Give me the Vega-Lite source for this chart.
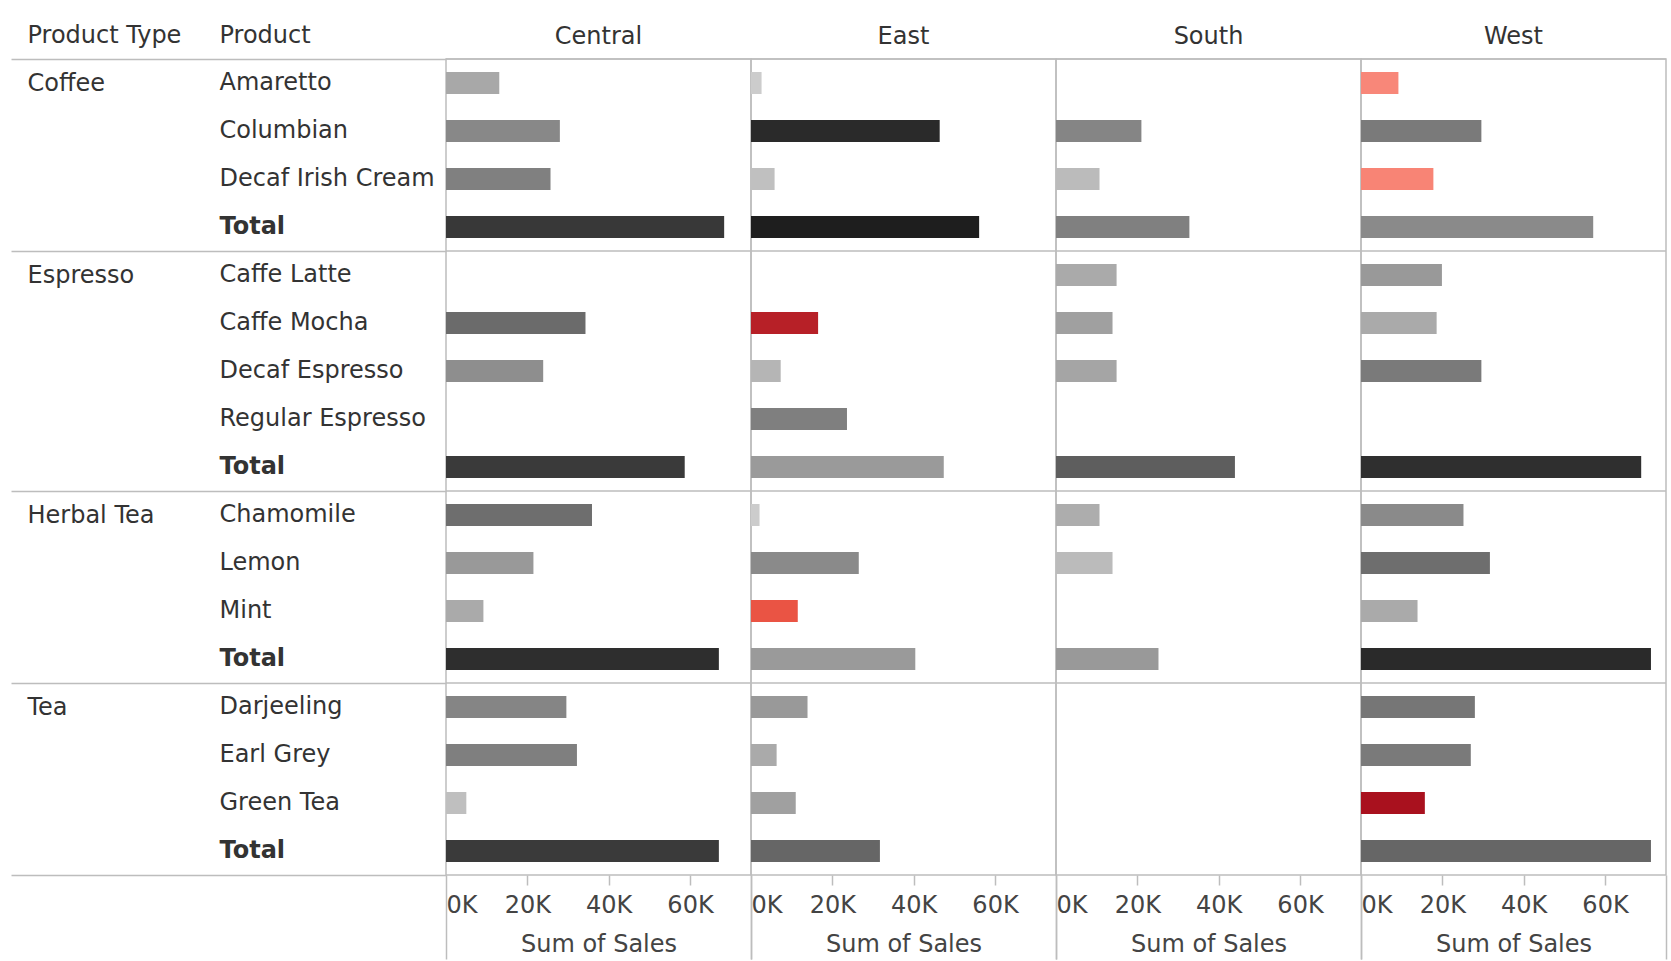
{
  "$schema": "https://vega.github.io/schema/vega-lite/v6.json",
  "padding": {"left": 10, "top": 23, "right": 0, "bottom": 0},
  "background": "white",
  "config": {
    "font": "DejaVu Sans",
    "view": {"stroke": "#bdbdbd", "strokeWidth": 1.5}
  },
  "data": {
    "values": [
      {"region": "Central", "type": "Coffee", "product": "Amaretto", "sales": 13100, "profit": 2200},
      {"region": "Central", "type": "Coffee", "product": "Columbian", "sales": 28000, "profit": 3960},
      {"region": "Central", "type": "Coffee", "product": "Decaf Irish Cream", "sales": 25700, "profit": 4400},
      {"region": "Central", "type": "Coffee", "product": "Total", "sales": 68400, "profit": 8350},
      {"region": "Central", "type": "Espresso", "product": "Caffe Latte", "sales": null, "profit": null},
      {"region": "Central", "type": "Espresso", "product": "Caffe Mocha", "sales": 34300, "profit": 5550},
      {"region": "Central", "type": "Espresso", "product": "Decaf Espresso", "sales": 23900, "profit": 3630},
      {"region": "Central", "type": "Espresso", "product": "Regular Espresso", "sales": null, "profit": null},
      {"region": "Central", "type": "Espresso", "product": "Total", "sales": 58700, "profit": 8240},
      {"region": "Central", "type": "Herbal Tea", "product": "Chamomile", "sales": 35900, "profit": 5380},
      {"region": "Central", "type": "Herbal Tea", "product": "Lemon", "sales": 21500, "profit": 3020},
      {"region": "Central", "type": "Herbal Tea", "product": "Mint", "sales": 9200, "profit": 2090},
      {"region": "Central", "type": "Herbal Tea", "product": "Total", "sales": 67100, "profit": 8900},
      {"region": "Central", "type": "Tea", "product": "Darjeeling", "sales": 29600, "profit": 4120},
      {"region": "Central", "type": "Tea", "product": "Earl Grey", "sales": 32200, "profit": 4450},
      {"region": "Central", "type": "Tea", "product": "Green Tea", "sales": 5000, "profit": 930},
      {"region": "Central", "type": "Tea", "product": "Total", "sales": 67100, "profit": 8240},

      {"region": "East", "type": "Coffee", "product": "Amaretto", "sales": 2600, "profit": 220},
      {"region": "East", "type": "Coffee", "product": "Columbian", "sales": 46400, "profit": 9120},
      {"region": "East", "type": "Coffee", "product": "Decaf Irish Cream", "sales": 5800, "profit": 880},
      {"region": "East", "type": "Coffee", "product": "Total", "sales": 56100, "profit": 9780},
      {"region": "East", "type": "Espresso", "product": "Caffe Latte", "sales": null, "profit": null},
      {"region": "East", "type": "Espresso", "product": "Caffe Mocha", "sales": 16500, "profit": -2500},
      {"region": "East", "type": "Espresso", "product": "Decaf Espresso", "sales": 7300, "profit": 1480},
      {"region": "East", "type": "Espresso", "product": "Regular Espresso", "sales": 23600, "profit": 4450},
      {"region": "East", "type": "Espresso", "product": "Total", "sales": 47400, "profit": 2970},
      {"region": "East", "type": "Herbal Tea", "product": "Chamomile", "sales": 2100, "profit": 220},
      {"region": "East", "type": "Herbal Tea", "product": "Lemon", "sales": 26500, "profit": 3850},
      {"region": "East", "type": "Herbal Tea", "product": "Mint", "sales": 11500, "profit": -1100},
      {"region": "East", "type": "Herbal Tea", "product": "Total", "sales": 40400, "profit": 2970},
      {"region": "East", "type": "Tea", "product": "Darjeeling", "sales": 13900, "profit": 3020},
      {"region": "East", "type": "Tea", "product": "Earl Grey", "sales": 6300, "profit": 2090},
      {"region": "East", "type": "Tea", "product": "Green Tea", "sales": 11000, "profit": 2640},
      {"region": "East", "type": "Tea", "product": "Total", "sales": 31700, "profit": 5820},

      {"region": "South", "type": "Coffee", "product": "Amaretto", "sales": null, "profit": null},
      {"region": "South", "type": "Coffee", "product": "Columbian", "sales": 21000, "profit": 4120},
      {"region": "South", "type": "Coffee", "product": "Decaf Irish Cream", "sales": 10700, "profit": 1150},
      {"region": "South", "type": "Coffee", "product": "Total", "sales": 32800, "profit": 4400},
      {"region": "South", "type": "Espresso", "product": "Caffe Latte", "sales": 14900, "profit": 2090},
      {"region": "South", "type": "Espresso", "product": "Caffe Mocha", "sales": 13900, "profit": 2640},
      {"region": "South", "type": "Espresso", "product": "Decaf Espresso", "sales": 14900, "profit": 2360},
      {"region": "South", "type": "Espresso", "product": "Regular Espresso", "sales": null, "profit": null},
      {"region": "South", "type": "Espresso", "product": "Total", "sales": 44000, "profit": 6260},
      {"region": "South", "type": "Herbal Tea", "product": "Chamomile", "sales": 10700, "profit": 1900},
      {"region": "South", "type": "Herbal Tea", "product": "Lemon", "sales": 13900, "profit": 1150},
      {"region": "South", "type": "Herbal Tea", "product": "Mint", "sales": null, "profit": null},
      {"region": "South", "type": "Herbal Tea", "product": "Total", "sales": 25200, "profit": 3020},
      {"region": "South", "type": "Tea", "product": "Darjeeling", "sales": null, "profit": null},
      {"region": "South", "type": "Tea", "product": "Earl Grey", "sales": null, "profit": null},
      {"region": "South", "type": "Tea", "product": "Green Tea", "sales": null, "profit": null},
      {"region": "South", "type": "Tea", "product": "Total", "sales": null, "profit": null},

      {"region": "West", "type": "Coffee", "product": "Amaretto", "sales": 9200, "profit": -250},
      {"region": "West", "type": "Coffee", "product": "Columbian", "sales": 29600, "profit": 4730},
      {"region": "West", "type": "Coffee", "product": "Decaf Irish Cream", "sales": 17800, "profit": -300},
      {"region": "West", "type": "Coffee", "product": "Total", "sales": 57100, "profit": 3850},
      {"region": "West", "type": "Espresso", "product": "Caffe Latte", "sales": 19900, "profit": 3020},
      {"region": "West", "type": "Espresso", "product": "Caffe Mocha", "sales": 18600, "profit": 2090},
      {"region": "West", "type": "Espresso", "product": "Decaf Espresso", "sales": 29600, "profit": 4730},
      {"region": "West", "type": "Espresso", "product": "Regular Espresso", "sales": null, "profit": null},
      {"region": "West", "type": "Espresso", "product": "Total", "sales": 68900, "profit": 8840},
      {"region": "West", "type": "Herbal Tea", "product": "Chamomile", "sales": 25200, "profit": 3850},
      {"region": "West", "type": "Herbal Tea", "product": "Lemon", "sales": 31700, "profit": 5380},
      {"region": "West", "type": "Herbal Tea", "product": "Mint", "sales": 13900, "profit": 2090},
      {"region": "West", "type": "Herbal Tea", "product": "Total", "sales": 71300, "profit": 9120},
      {"region": "West", "type": "Tea", "product": "Darjeeling", "sales": 28000, "profit": 4950},
      {"region": "West", "type": "Tea", "product": "Earl Grey", "sales": 27000, "profit": 4700},
      {"region": "West", "type": "Tea", "product": "Green Tea", "sales": 15700, "profit": -2900},
      {"region": "West", "type": "Tea", "product": "Total", "sales": 71300, "profit": 5820}
    ]
  },
  "transform": [{"calculate": "datum.type + '|' + datum.product", "as": "key"}],
  "facet": {
    "column": {
      "field": "region",
      "type": "nominal",
      "sort": ["Central", "East", "South", "West"],
      "header": {"title": null, "labelFontSize": 24, "labelColor": "#333", "labelPadding": 10}
    }
  },
  "spacing": 0,
  "bounds": "flush",
  "spec": {
    "width": 305,
    "height": {"step": 48},
    "layer": [
      {
        "transform": [{"filter": "isValid(datum.sales)"}],
        "mark": {"type": "bar", "size": 22},
        "encoding": {
          "y": {
            "field": "key",
            "type": "nominal",
            "sort": ["Coffee|Amaretto", "Coffee|Columbian", "Coffee|Decaf Irish Cream", "Coffee|Total", "Espresso|Caffe Latte", "Espresso|Caffe Mocha", "Espresso|Decaf Espresso", "Espresso|Regular Espresso", "Espresso|Total", "Herbal Tea|Chamomile", "Herbal Tea|Lemon", "Herbal Tea|Mint", "Herbal Tea|Total", "Tea|Darjeeling", "Tea|Earl Grey", "Tea|Green Tea", "Tea|Total"],
            "scale": {"paddingInner": 0, "paddingOuter": 0},
            "axis": {
              "orient": "left",
              "title": "Product",
              "titleAngle": 0,
              "titleAlign": "left",
              "titleBaseline": "middle",
              "titleX": -227,
              "titleY": -24,
              "titleFontSize": 24,
              "titleFontWeight": "normal",
              "titleColor": "#333",
              "labelExpr": "split(datum.value, '|')[1]",
              "labelAlign": "left",
              "labelBaseline": "middle",
              "labelPadding": 227,
              "labelLimit": 400,
              "labelFontSize": 24,
              "labelColor": "#333",
              "labelFontWeight": {"condition": {"test": "datum.value == 'Coffee|Total' || datum.value == 'Espresso|Total' || datum.value == 'Herbal Tea|Total' || datum.value == 'Tea|Total'", "value": "bold"}, "value": "normal"},
              "ticks": false,
              "domain": false,
              "grid": false
            }
          },
          "x": {
            "field": "sales",
            "type": "quantitative",
            "scale": {"domain": [0, 75000], "nice": false},
            "axis": {
              "title": "Sum of Sales",
              "titleY": 69,
              "titleBaseline": "middle",
              "values": [0, 20000, 40000, 60000, 75000],
              "labelExpr": "datum.value == 75000 ? '' : datum.value / 1000 + 'K'",
              "labelFlush": true,
              "labelFontSize": 24,
              "labelColor": "#444",
              "labelPadding": {"condition": {"test": "datum.value == 0 || datum.value == 75000", "value": -66}, "value": 8},
              "tickSize": {"condition": {"test": "datum.value == 0 || datum.value == 75000", "value": 84}, "value": 10},
              "tickColor": "#bdbdbd",
              "tickWidth": 1.5,
              "domain": false,
              "grid": false,
              "titleFontSize": 24,
              "titleFontWeight": "normal",
              "titleColor": "#444"
            }
          },
          "color": {
            "field": "profit",
            "type": "quantitative",
            "scale": {
              "domain": [-3000, -1000, -200, 0, 10000],
              "range": ["#a50d1c", "#ee5846", "#f98a7c", "#d0d0d0", "#1a1a1a"],
              "interpolate": "rgb"
            },
            "legend": null
          }
        }
      },
      {
        "transform": [{"filter": {"field": "key", "oneOf": ["Coffee|Amaretto", "Espresso|Caffe Latte", "Herbal Tea|Chamomile", "Tea|Darjeeling"]}}],
        "mark": {"type": "rule", "color": "#bdbdbd", "strokeWidth": 1.5},
        "encoding": {
          "y": {
            "field": "key",
            "type": "nominal",
            "bandPosition": 0,
            "sort": ["Coffee|Amaretto", "Coffee|Columbian", "Coffee|Decaf Irish Cream", "Coffee|Total", "Espresso|Caffe Latte", "Espresso|Caffe Mocha", "Espresso|Decaf Espresso", "Espresso|Regular Espresso", "Espresso|Total", "Herbal Tea|Chamomile", "Herbal Tea|Lemon", "Herbal Tea|Mint", "Herbal Tea|Total", "Tea|Darjeeling", "Tea|Earl Grey", "Tea|Green Tea", "Tea|Total"],
            "axis": {
              "orient": "left",
              "title": "Product Type",
              "titleAngle": 0,
              "titleAlign": "left",
              "titleBaseline": "middle",
              "titleX": -419,
              "titleY": -24,
              "titleFontSize": 24,
              "titleFontWeight": "normal",
              "titleColor": "#333",
              "labelExpr": "datum.value == 'Coffee|Amaretto' ? 'Coffee' : datum.value == 'Espresso|Caffe Latte' ? 'Espresso' : datum.value == 'Herbal Tea|Chamomile' ? 'Herbal Tea' : datum.value == 'Tea|Darjeeling' ? 'Tea' : ''",
              "labelAlign": "left",
              "labelBaseline": "middle",
              "labelPadding": -16,
              "labelLimit": 400,
              "labelFontSize": 24,
              "labelColor": "#333",
              "tickSize": 435,
              "tickBand": "extent",
              "tickWidth": 1.5,
              "tickColor": {"condition": {"test": "datum.index == -1 || datum.value == 'Coffee|Total' || datum.value == 'Espresso|Total' || datum.value == 'Herbal Tea|Total' || datum.value == 'Tea|Total'", "value": "#bdbdbd"}, "value": "transparent"},
              "domain": false,
              "grid": false
            }
          }
        }
      }
    ],
    "resolve": {"axis": {"y": "independent"}}
  }
}
